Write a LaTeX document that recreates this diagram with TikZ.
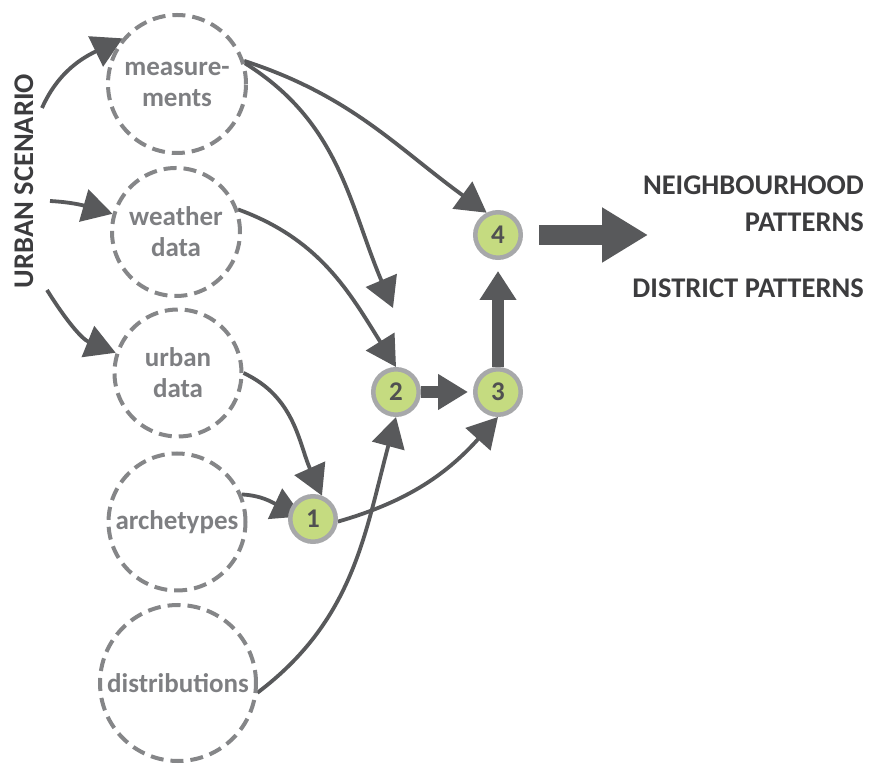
\documentclass[tikz,border=0pt]{standalone}
\usepackage{fontspec}
\setmainfont{Carlito}
\usetikzlibrary{arrows.meta}
\definecolor{arrowgray}{HTML}{58595B}
\definecolor{dashgray}{HTML}{858688}
\definecolor{labelgray}{HTML}{7E7F82}
\definecolor{ringgray}{HTML}{A7A8AA}
\definecolor{stepgreen}{HTML}{C5DB80}
\definecolor{headgray}{HTML}{3C3C3E}
\pgfdeclarelayer{bg}
\pgfsetlayers{bg,main}
\tikzset{
  source/.style={circle, draw=dashgray, line width=4pt, dash pattern=on 13pt off 7pt,
    inner sep=0pt, align=center, text=labelgray,
    font=\fontsize{27}{31}\selectfont\bfseries},
  stepnode/.style={circle, draw=ringgray, fill=stepgreen, line width=4.5pt,
    minimum size=45.5pt, inner sep=0pt, text=headgray!90!white,
    font=\fontsize{27}{30}\selectfont\bfseries},
  flow/.style={draw=arrowgray, line width=3.8pt,
    -{Triangle[length=30pt,width=33pt]}, arrowgray},
  bigflow/.style={draw=arrowgray, line width=12pt,
    -{Triangle[length=30pt,width=35pt]}, arrowgray},
  heading/.style={text=headgray, font=\fontsize{28.5}{37}\selectfont\bfseries, inner sep=0pt}
}
\begin{document}
\begin{tikzpicture}[x=1pt,y=1pt]
\useasboundingbox (0,0) rectangle (870,763);

% input sources
\node[source, minimum size=138pt] (meas) at (177,679) {measure-\\ments};
\node[source, minimum size=128pt] (weath) at (176,531) {weather\\data};
\node[source, minimum size=127pt] (urb) at (178,390) {urban\\data};
\node[source, minimum size=137pt] (arch) at (177,241) {archetypes};
\node[source, minimum size=156pt] (dist) at (178,80) {distributions};

% processing steps
\node[stepnode] (n1) at (313,244) {1};
\node[stepnode] (n2) at (396,371) {2};
\node[stepnode] (n3) at (498,371) {3};
\node[stepnode] (n4) at (498,528) {4};

% scenario and results
\node[heading, rotate=90] (scen) at (24,582) {URBAN SCENARIO};
\node[heading, anchor=east, align=right] (nbh) at (864,559) {NEIGHBOURHOOD\\PATTERNS};
\node[heading, anchor=east] (dpat) at (864,475) {DISTRICT PATTERNS};

\coordinate (us1) at (42,655);
\coordinate (us2) at (50,562);
\coordinate (us3) at (47,473);
\coordinate (m2) at (393,455);
\coordinate (out) at (648,528);

\begin{pgfonlayer}{bg}
\draw[flow] (us1) to[out=66, in=206] (meas.140);
\draw[flow] (us2) to[out=-3, in=164] (weath.164);
\draw[flow] (us3) to[out=-58, in=158] (urb.162);

\draw[flow] (meas.19) to[out=-18, in=144] (n4.117);
\draw[flow] (meas.17) to[out=-32, in=113] (m2);
\draw[flow] (weath.20) to[out=-20, in=122] (n2.north);
\draw[flow] (urb.0) to[out=-25, in=114] (n1.69);
\draw[flow, shorten >=-14pt] (arch.23) to[out=-3, in=155] (n1.160);
\draw[flow] (n1.-6) to[out=16, in=228] (n3.south);
\draw[flow] (dist.-7) to[out=37, in=255] (n2.south);

\draw[bigflow, -{Triangle[length=30pt,width=34pt]}, shorten >=5pt] (n2) -- (n3);
\draw[bigflow, -{Triangle[length=29pt,width=35pt]}, shorten >=11pt] (n3) -- (n4);
\draw[bigflow, line width=20pt, -{Triangle[length=46pt,width=52pt]}, shorten <=16pt] (n4) -- (out);
\end{pgfonlayer}
\end{tikzpicture}
\end{document}
